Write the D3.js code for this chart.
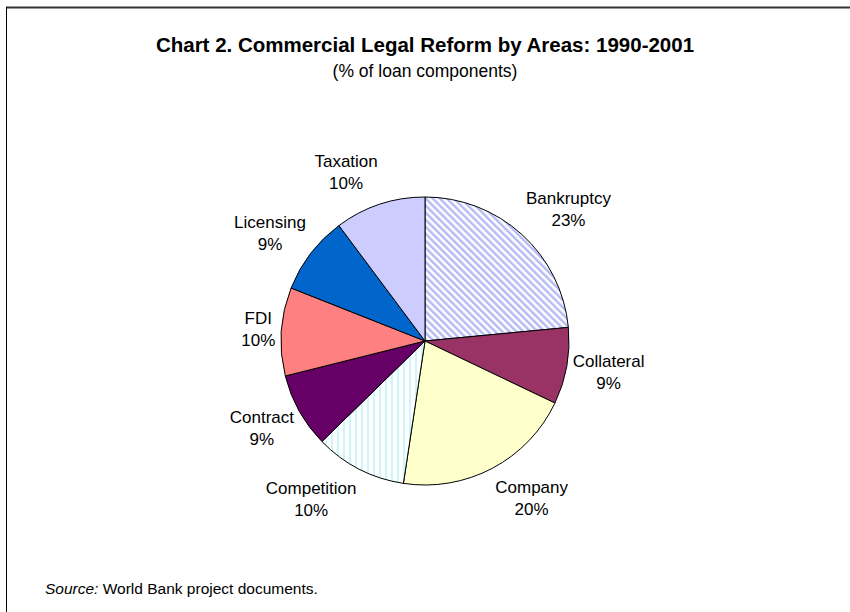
<!DOCTYPE html>
<html>
<head>
<meta charset="utf-8">
<script src="https://cdn.jsdelivr.net/npm/d3@7/dist/d3.min.js"></script>
<style>
  html, body { margin: 0; padding: 0; background: #fff; }
  svg { display: block; }
</style>
</head>
<body>
<svg id="chart" width="850" height="612"></svg>
<script>
// ---- data ----
const categories = ["Bankruptcy", "Collateral", "Company", "Competition", "Contract", "FDI", "Licensing", "Taxation"];
const shares = [23.49, 8.6, 20.3, 10.3, 8.4, 9.9, 8.8, 10.2];
const percentLabels = ["23%", "9%", "20%", "10%", "9%", "10%", "9%", "10%"];
const fills = ["url(#pBankruptcy)", "#993366", "#FFFFCC", "url(#pCompetition)", "#660066", "#FF8080", "#0066CC", "#CCCCFF"];
const titleText = "Chart 2. Commercial Legal Reform by Areas: 1990-2001";
const subtitleText = "(% of loan components)";

const W = 850, H = 612;
const cx = 425, cy = 341, R = 144;
const FONT = "Liberation Sans, Arial, sans-serif";
const svg = d3.select("#chart");

// patterns
const defs = svg.append("defs");
const p1 = defs.append("pattern").attr("id", "pBankruptcy").attr("patternUnits", "userSpaceOnUse")
  .attr("width", 5).attr("height", 5).attr("patternTransform", "rotate(-45)");
p1.append("rect").attr("width", 5).attr("height", 5).attr("fill", "#ffffff");
p1.append("rect").attr("width", 2.5).attr("height", 5).attr("fill", "#b6bbf6");

const p2 = defs.append("pattern").attr("id", "pCompetition").attr("patternUnits", "userSpaceOnUse")
  .attr("width", 6).attr("height", 6);
p2.append("rect").attr("width", 6).attr("height", 6).attr("fill", "#ffffff");
p2.append("rect").attr("x", 2).attr("width", 2).attr("height", 6).attr("fill", "#ccf6fb");

// frame lines
svg.append("line").attr("x1", 6).attr("x2", W).attr("y1", 7.5).attr("y2", 7.5)
  .attr("stroke", "#333").attr("stroke-width", 2);
svg.append("line").attr("x1", 6.5).attr("x2", 6.5).attr("y1", 7).attr("y2", H)
  .attr("stroke", "#000").attr("stroke-width", 1);

// titles
svg.append("text").attr("x", cx).attr("y", 52).attr("text-anchor", "middle")
  .attr("font-family", FONT).attr("font-weight", "bold")
  .attr("font-size", 20.5).attr("fill", "#000").text(titleText);
svg.append("text").attr("x", cx).attr("y", 77).attr("text-anchor", "middle")
  .attr("font-family", FONT)
  .attr("font-size", 17.5).attr("fill", "#000").text(subtitleText);

// pie
const data = categories.map((c, i) => ({ name: c, value: shares[i], label: percentLabels[i], fill: fills[i] }));
const pie = d3.pie().value(d => d.value).sort(null);
const arcs = pie(data);
const arc = d3.arc().innerRadius(0).outerRadius(R);
const g = svg.append("g").attr("transform", `translate(${cx},${cy})`);
g.selectAll("path").data(arcs).join("path")
  .attr("d", arc)
  .attr("fill", d => d.data.fill)
  .attr("stroke", "#000").attr("stroke-width", 1).attr("stroke-linejoin", "round");

// labels (outside end, box edge next to the pie)
const lbl = g.selectAll("g.lbl").data(arcs).join("g").attr("class", "lbl");
lbl.append("text").attr("class", "nm").attr("y", -5).attr("text-anchor", "middle")
  .attr("font-family", FONT).attr("font-size", 17).attr("fill", "#000")
  .text(d => d.data.name);
lbl.append("text").attr("class", "pc").attr("y", 17).attr("text-anchor", "middle")
  .attr("font-family", FONT).attr("font-size", 17).attr("fill", "#000")
  .text(d => d.data.label);
lbl.attr("transform", function(d) {
  const a = (d.startAngle + d.endAngle) / 2;
  const s = Math.sin(a), c = Math.cos(a);
  const w = Math.max(
    d3.select(this).select("text.nm").node().getComputedTextLength(),
    d3.select(this).select("text.pc").node().getComputedTextLength());
  const x = s * (R + 6) + Math.sign(s) * w / 2;
  const y = -c * (R + 34);
  return `translate(${x},${y})`;
});

// source
const src = svg.append("text").attr("x", 45).attr("y", 594)
  .attr("font-family", FONT).attr("font-size", 15.5).attr("fill", "#000");
src.append("tspan").attr("font-style", "italic").text("Source:");
src.append("tspan").text(" World Bank project documents.");
</script>
</body>
</html>
